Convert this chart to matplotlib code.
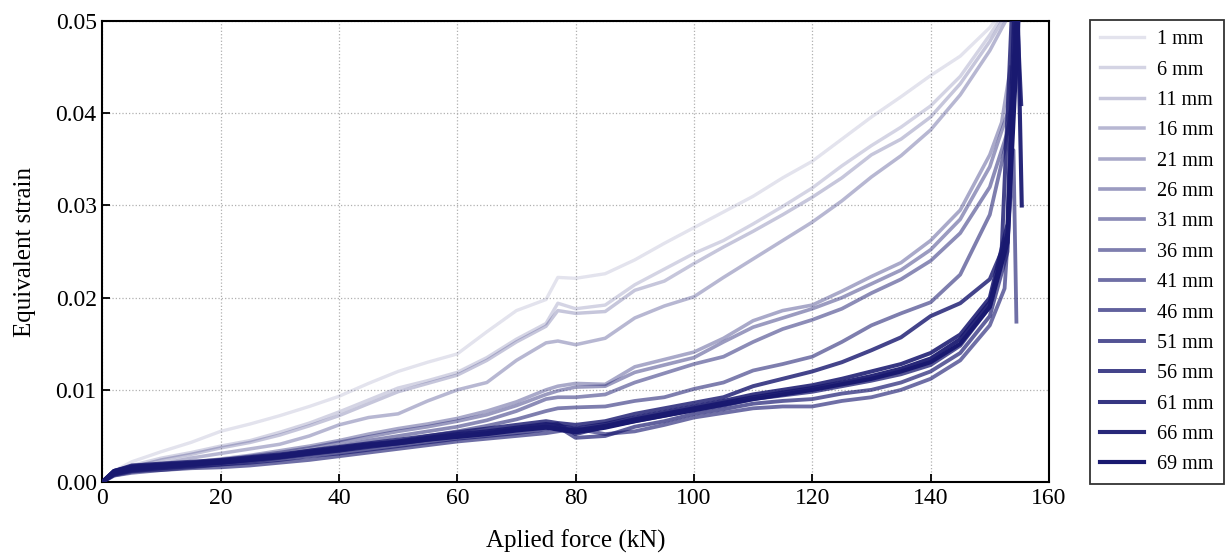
import numpy as np
import matplotlib
matplotlib.use("Agg")
import matplotlib.pyplot as plt

plt.rcParams["font.family"] = ["Liberation Serif", "DejaVu Serif"]

# applied force grid (kN) shared by all curves up to 150 kN
FORCE = [0, 2, 5, 10, 15, 20, 25, 30, 35, 40, 45, 50, 55, 60, 65, 70, 75, 77,
         80, 85, 90, 95, 100, 105, 110, 115, 120, 125, 130, 135, 140, 145, 150]

LABELS = ["1 mm", "6 mm", "11 mm", "16 mm", "21 mm", "26 mm", "31 mm", "36 mm",
          "41 mm", "46 mm", "51 mm", "56 mm", "61 mm", "66 mm", "69 mm"]

# equivalent strain, one list per probe distance
S01 = [0, .0012, .0022, .0033, .0043, .0055, .0063, .0072, .0082, .0093, .0107, .0120, .0130, .0139,
       .0163, .0186, .0198, .0222, .0221, .0226, .0241, .0259, .0276, .0293, .0310, .0330, .0348,
       .0372, .0396, .0418, .0441, .0462, .0493]
S06 = [0, .0010, .0018, .0026, .0032, .0039, .0045, .0054, .0064, .0076, .0089, .0102, .0110, .0119,
       .0135, .0155, .0172, .0194, .0188, .0192, .0214, .0231, .0248, .0262, .0280, .0299, .0319,
       .0343, .0365, .0385, .0408, .0440, .0485]
S11 = [0, .0009, .0016, .0024, .0030, .0037, .0043, .0051, .0061, .0072, .0085, .0098, .0107, .0116,
       .0132, .0152, .0169, .0186, .0183, .0185, .0208, .0218, .0237, .0255, .0272, .0290, .0309,
       .0330, .0355, .0372, .0396, .0432, .0478]
S16 = [0, .0008, .0014, .0020, .0026, .0031, .0036, .0041, .0050, .0062, .0070, .0074, .0088, .0100,
       .0108, .0132, .0151, .0153, .0149, .0156, .0178, .0191, .0201, .0222, .0242, .0262, .0282,
       .0305, .0331, .0354, .0382, .0420, .0468]
S21 = [0, .0008, .0013, .0017, .0021, .0025, .0029, .0034, .0039, .0045, .0052, .0058, .0063, .0069,
       .0077, .0087, .0100, .0104, .0107, .0106, .0125, .0133, .0141, .0156, .0175, .0186, .0192,
       .0207, .0223, .0238, .0262, .0295, .0355]
S26 = [0, .0008, .0012, .0016, .0020, .0024, .0028, .0032, .0037, .0043, .0049, .0055, .0060, .0066,
       .0073, .0083, .0095, .0099, .0103, .0104, .0119, .0127, .0135, .0152, .0168, .0178, .0188,
       .0200, .0215, .0230, .0252, .0285, .0342]
S31 = [0, .0007, .0011, .0015, .0018, .0022, .0025, .0029, .0034, .0039, .0045, .0050, .0055, .0060,
       .0067, .0077, .0090, .0092, .0092, .0095, .0108, .0118, .0128, .0136, .0152, .0166, .0176,
       .0188, .0205, .0220, .0240, .0270, .0320]
S36 = [0, .0007, .0010, .0013, .0016, .0019, .0022, .0026, .0030, .0034, .0039, .0044, .0050, .0055,
       .0061, .0068, .0077, .0080, .0081, .0082, .0088, .0092, .0101, .0108, .0121, .0128, .0136,
       .0152, .0170, .0183, .0195, .0225, .0290]
S41 = [0, .0008, .0012, .0013, .0015, .0016, .0018, .0021, .0024, .0028, .0032, .0036, .0040, .0044,
       .0047, .0050, .0053, .0055, .0058, .0052, .0055, .0062, .0070, .0075, .0080, .0082, .0082,
       .0088, .0092, .0100, .0112, .0132, .0170]
S46 = [0, .0009, .0013, .0015, .0017, .0019, .0021, .0024, .0028, .0031, .0035, .0039, .0043, .0047,
       .0050, .0053, .0057, .0060, .0048, .0050, .0060, .0066, .0074, .0079, .0085, .0088, .0090,
       .0096, .0100, .0108, .0120, .0140, .0180]
S51 = [0, .0011, .0015, .0017, .0019, .0021, .0024, .0027, .0031, .0034, .0038, .0042, .0046, .0050,
       .0054, .0058, .0062, .0063, .0052, .0060, .0066, .0072, .0078, .0083, .0090, .0094, .0098,
       .0104, .0110, .0117, .0127, .0148, .0190]
S56 = [0, .0012, .0018, .0020, .0022, .0024, .0027, .0030, .0034, .0038, .0042, .0046, .0050, .0054,
       .0058, .0062, .0066, .0064, .0062, .0066, .0074, .0080, .0086, .0092, .0104, .0112, .0120,
       .0130, .0143, .0157, .0180, .0194, .0220]
S61 = [0, .0012, .0017, .0019, .0021, .0023, .0026, .0029, .0033, .0037, .0041, .0044, .0048, .0052,
       .0055, .0059, .0063, .0061, .0058, .0063, .0070, .0076, .0082, .0088, .0095, .0100, .0105,
       .0112, .0120, .0128, .0140, .0160, .0200]
S66 = [0, .0012, .0016, .0018, .0020, .0022, .0025, .0028, .0032, .0036, .0040, .0043, .0047, .0050,
       .0053, .0057, .0060, .0058, .0056, .0061, .0068, .0074, .0080, .0086, .0092, .0097, .0102,
       .0108, .0115, .0123, .0134, .0155, .0195]
S69 = [0, .0011, .0015, .0017, .0019, .0021, .0024, .0027, .0031, .0035, .0039, .0042, .0046, .0049,
       .0052, .0056, .0059, .0057, .0054, .0059, .0066, .0072, .0078, .0084, .0090, .0095, .0100,
       .0106, .0112, .0120, .0130, .0150, .0190]

# end of each test beyond 150 kN (force, strain)
TAIL_F = [[152], [152.5], [153], [153.5], [152, 153.5], [153, 154], [153, 154.5], [152.5, 154],
          [152.5, 154, 154.5], [153, 154.8], [153, 155], [152, 154], [153, 154.3, 155.3],
          [153, 154.6, 155.4], [153, 155.2]]
TAIL_S = [[.051], [.051], [.051], [.051], [.039, .045], [.040, .046], [.038, .045], [.036, .042],
          [.021, .036, .0174], [.025, .055], [.027, .055], [.025, .055], [.028, .055, .041],
          [.027, .055, .030], [.026, .055]]

SERIES = [S01, S06, S11, S16, S21, S26, S31, S36, S41, S46, S51, S56, S61, S66, S69]

fig = plt.figure(figsize=(12.26, 5.56), dpi=100)
ax = fig.add_axes([0.0834, 0.133, 0.7722, 0.829])

alphas = np.linspace(0.12, 1.0, len(SERIES))
widths = np.linspace(2.4, 3.0, len(SERIES))
for s, tf, ts, lab, a, w in zip(SERIES, TAIL_F, TAIL_S, LABELS, alphas, widths):
    ax.plot(FORCE + tf, s + ts, color="#191970", alpha=a, lw=w, label=lab, zorder=3)

ax.set_xlim(0, 160)
ax.set_ylim(0, 0.05)
ax.set_xticks(np.arange(0, 161, 20))
ax.set_yticks([0, 0.01, 0.02, 0.03, 0.04, 0.05])
ax.set_yticklabels(["0.00", "0.01", "0.02", "0.03", "0.04", "0.05"])
ax.tick_params(direction="in", length=6, width=1.3, labelsize=17, pad=4)
ax.grid(True, ls=":", color="#b0b0b0", lw=0.9, zorder=0)
for sp in ax.spines.values():
    sp.set_linewidth(1.5)
ax.set_xlabel("Aplied force (kN)", fontsize=18, labelpad=15)
ax.set_ylabel("Equivalent strain", fontsize=18, labelpad=14)

leg = fig.legend(loc="upper left", bbox_to_anchor=(1090 / 1226, 1 - 20 / 556), fontsize=14.5,
                 frameon=True, fancybox=False, edgecolor="black", handlelength=2.2,
                 handletextpad=0.65, labelspacing=0.56, borderpad=0.5, borderaxespad=0)
leg.get_frame().set_linewidth(1.3)

fig.savefig("out.png", dpi=100)
